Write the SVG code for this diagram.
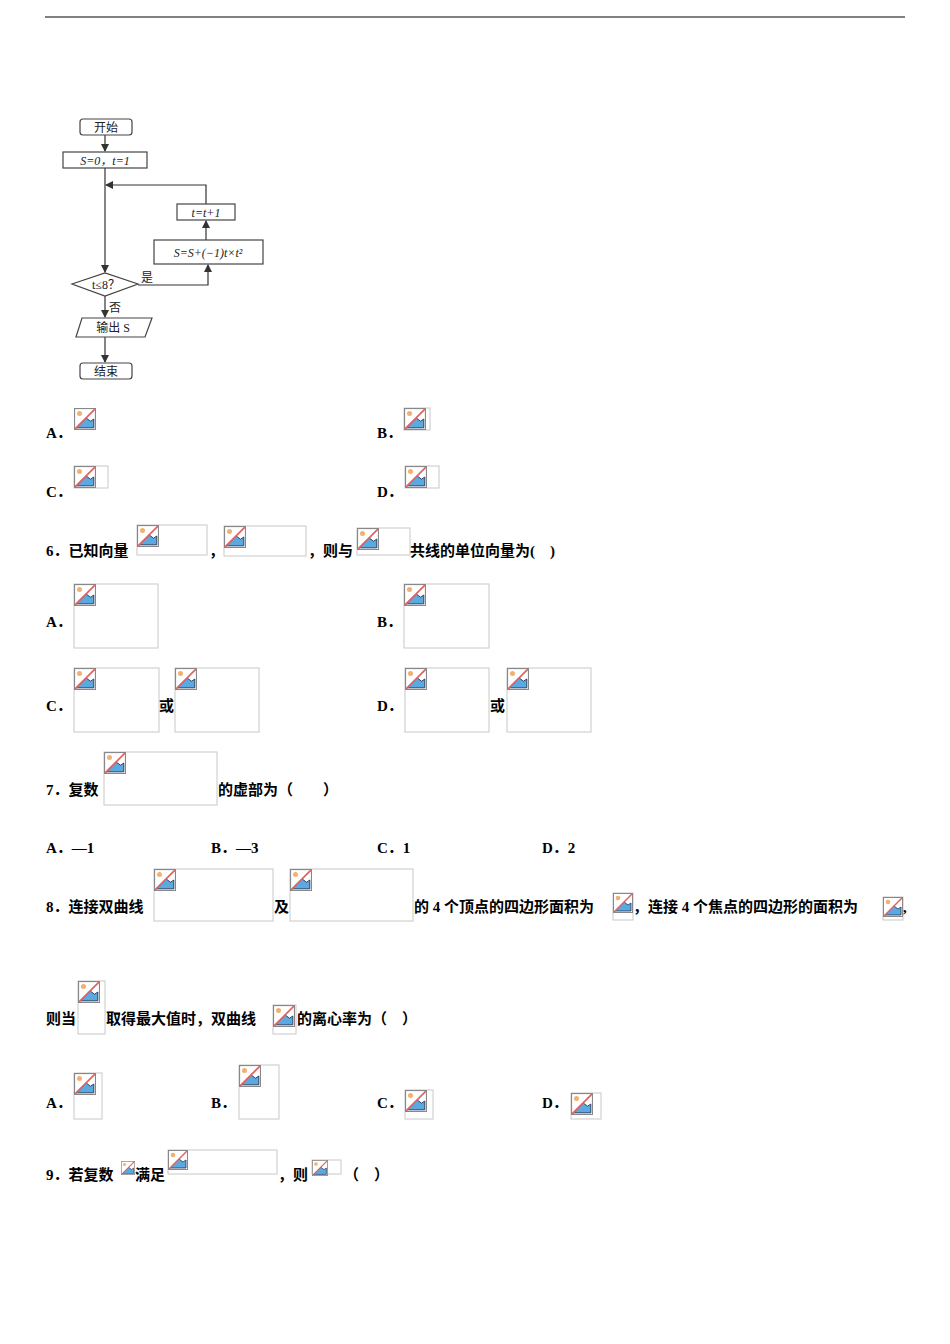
<svg xmlns="http://www.w3.org/2000/svg" width="950" height="1344" viewBox="0 0 950 1344">
<style>
.t{font-family:"Liberation Serif","Noto Sans CJK SC",serif;font-size:15px;font-weight:bold;fill:#000}
.f{font-family:"Liberation Serif","Noto Sans CJK SC",serif;font-size:12px;fill:#222}
.fb{fill:#fff;stroke:#444;stroke-width:1.2}
.ln{fill:none;stroke:#333;stroke-width:1.2}
.ph{fill:#fff;stroke:#c8c8c8;stroke-width:1}
</style>
<defs>
<marker id="ar" viewBox="0 0 8 8" refX="7" refY="4" markerWidth="7" markerHeight="7" orient="auto"><path d="M0,0L8,4L0,8z" fill="#333"/></marker>
<symbol id="bi" viewBox="0 0 20 20" overflow="visible">
<rect x="0.5" y="0.5" width="19" height="19" fill="#fff" stroke="#888"/>
<circle cx="5" cy="5" r="2.3" fill="#f3b070"/>
<path d="M2,18L11,9L15,12L18,10L18,18z" fill="#5aa9e0" stroke="#235" stroke-width="0.8"/>
<path d="M1,19L19,1" stroke="#e06060" stroke-width="1.5"/>
</symbol>
</defs>
<line x1="45" y1="17" x2="905" y2="17" stroke="#000" stroke-width="1"/>
<g id="connectors">
<path class="ln" d="M105,135V151" marker-end="url(#ar)"/>
<path class="ln" d="M105,168V272" marker-end="url(#ar)"/>
<path class="ln" d="M206,205V185H106" marker-end="url(#ar)"/>
<path class="ln" d="M206,240V221" marker-end="url(#ar)"/>
<path class="ln" d="M138,285H208V265" marker-end="url(#ar)"/>
<path class="ln" d="M105,296V317" marker-end="url(#ar)"/>
<path class="ln" d="M105,337V362" marker-end="url(#ar)"/>
</g>
<g id="start"><rect class="fb" x="80" y="119" width="52" height="16" rx="3"/><text class="f" x="106" y="132" text-anchor="middle">开始</text></g>
<g id="init"><rect class="fb" x="63" y="152" width="84" height="16"/><text class="f" x="105" y="165" text-anchor="middle" font-style="italic">S=0，t=1</text></g>
<g id="inc"><rect class="fb" x="177" y="204" width="58" height="16"/><text class="f" x="206" y="217" text-anchor="middle" font-style="italic">t=t+1</text></g>
<g id="sum"><rect class="fb" x="154" y="240" width="109" height="24"/><text class="f" x="208" y="257" text-anchor="middle" font-style="italic">S=S+(−1)t×t²</text></g>
<g id="cond"><path class="fb" d="M72,284L105,273L138,284L105,296z"/><text class="f" x="106" y="289" text-anchor="middle">t≤8？</text><text class="f" x="141" y="282">是</text><text class="f" x="109" y="312">否</text></g>
<g id="out"><path class="fb" d="M82,318H152L145,337H76z"/><text class="f" x="113" y="332" text-anchor="middle">输出 S</text></g>
<g id="end"><rect class="fb" x="80" y="363" width="52" height="16" rx="3"/><text class="f" x="106" y="376" text-anchor="middle">结束</text></g>

<g id="q5">
<text class="t" x="46" y="438">A．</text><use href="#bi" x="74" y="408" width="22" height="22"/>
<text class="t" x="377" y="438">B．</text><rect class="ph" x="404" y="408" width="26" height="22"/><use href="#bi" x="404" y="408" width="22" height="22"/>
<text class="t" x="46" y="497">C．</text><rect class="ph" x="74" y="466" width="34" height="22"/><use href="#bi" x="74" y="466" width="22" height="22"/>
<text class="t" x="377" y="497">D．</text><rect class="ph" x="405" y="466" width="34" height="22"/><use href="#bi" x="405" y="466" width="22" height="22"/>
</g>
<g id="q6">
<text class="t" x="46" y="556">6．已知向量</text>
<rect class="ph" x="137" y="525" width="70" height="30"/><use href="#bi" x="137" y="525" width="22" height="22"/>
<text class="t" x="209" y="556">，</text>
<rect class="ph" x="224" y="526" width="82" height="30"/><use href="#bi" x="224" y="526" width="22" height="22"/>
<text class="t" x="308" y="556">，则与</text>
<rect class="ph" x="357" y="528" width="53" height="27"/><use href="#bi" x="357" y="528" width="22" height="22"/>
<text class="t" x="410" y="556">共线的单位向量为(　)</text>
<text class="t" x="46" y="627">A．</text><rect class="ph" x="74" y="584" width="84" height="64"/><use href="#bi" x="74" y="584" width="22" height="22"/>
<text class="t" x="377" y="627">B．</text><rect class="ph" x="404" y="584" width="85" height="64"/><use href="#bi" x="404" y="584" width="22" height="22"/>
<text class="t" x="46" y="711">C．</text><rect class="ph" x="74" y="668" width="85" height="64"/><use href="#bi" x="74" y="668" width="22" height="22"/>
<text class="t" x="159" y="711">或</text><rect class="ph" x="175" y="668" width="84" height="64"/><use href="#bi" x="175" y="668" width="22" height="22"/>
<text class="t" x="377" y="711">D．</text><rect class="ph" x="405" y="668" width="84" height="64"/><use href="#bi" x="405" y="668" width="22" height="22"/>
<text class="t" x="490" y="711">或</text><rect class="ph" x="507" y="668" width="84" height="64"/><use href="#bi" x="507" y="668" width="22" height="22"/>
</g>
<g id="q7">
<text class="t" x="46" y="795">7．复数</text>
<rect class="ph" x="104" y="752" width="113" height="53"/><use href="#bi" x="104" y="752" width="22" height="22"/>
<text class="t" x="218" y="795">的虚部为（　　）</text>
<text class="t" x="46" y="853">A．—1</text><text class="t" x="211" y="853">B．—3</text><text class="t" x="377" y="853">C．1</text><text class="t" x="542" y="853">D．2</text>
</g>
<g id="q8">
<text class="t" x="46" y="912">8．连接双曲线</text>
<rect class="ph" x="154" y="869" width="119" height="52"/><use href="#bi" x="154" y="869" width="22" height="22"/>
<text class="t" x="274" y="912">及</text>
<rect class="ph" x="290" y="869" width="123" height="52"/><use href="#bi" x="290" y="869" width="22" height="22"/>
<text class="t" x="414" y="912">的 4 个顶点的四边形面积为</text>
<rect class="ph" x="613" y="893" width="20" height="27"/><use href="#bi" x="613" y="893" width="20" height="20"/>
<text class="t" x="633" y="912">，连接 4 个焦点的四边形的面积为</text>
<rect class="ph" x="883" y="897" width="20" height="23"/><use href="#bi" x="883" y="897" width="20" height="20"/>
<text class="t" x="903" y="912">,</text>
<text class="t" x="46" y="1024">则当</text>
<rect class="ph" x="78" y="981" width="27" height="53"/><use href="#bi" x="78" y="981" width="22" height="22"/>
<text class="t" x="106" y="1024">取得最大值时，双曲线</text>
<rect class="ph" x="273" y="1005" width="23" height="29"/><use href="#bi" x="273" y="1005" width="22" height="22"/>
<text class="t" x="297" y="1024">的离心率为（　）</text>
<text class="t" x="46" y="1108">A．</text><rect class="ph" x="74" y="1073" width="28" height="46"/><use href="#bi" x="74" y="1073" width="22" height="22"/>
<text class="t" x="211" y="1108">B．</text><rect class="ph" x="239" y="1065" width="40" height="54"/><use href="#bi" x="239" y="1065" width="22" height="22"/>
<text class="t" x="377" y="1108">C．</text><rect class="ph" x="405" y="1090" width="28" height="29"/><use href="#bi" x="405" y="1090" width="22" height="22"/>
<text class="t" x="542" y="1108">D．</text><rect class="ph" x="571" y="1093" width="30" height="26"/><use href="#bi" x="571" y="1093" width="22" height="22"/>
</g>
<g id="q9">
<text class="t" x="46" y="1180">9．若复数</text>
<use href="#bi" x="121" y="1161" width="14" height="14"/>
<text class="t" x="135" y="1180">满足</text>
<rect class="ph" x="168" y="1150" width="109" height="24"/><use href="#bi" x="168" y="1150" width="20" height="20"/>
<text class="t" x="278" y="1180">，则</text>
<rect class="ph" x="312" y="1160" width="29" height="14"/><use href="#bi" x="312" y="1160" width="16" height="16"/>
<text class="t" x="344" y="1180">（　）</text>
</g>
</svg>
